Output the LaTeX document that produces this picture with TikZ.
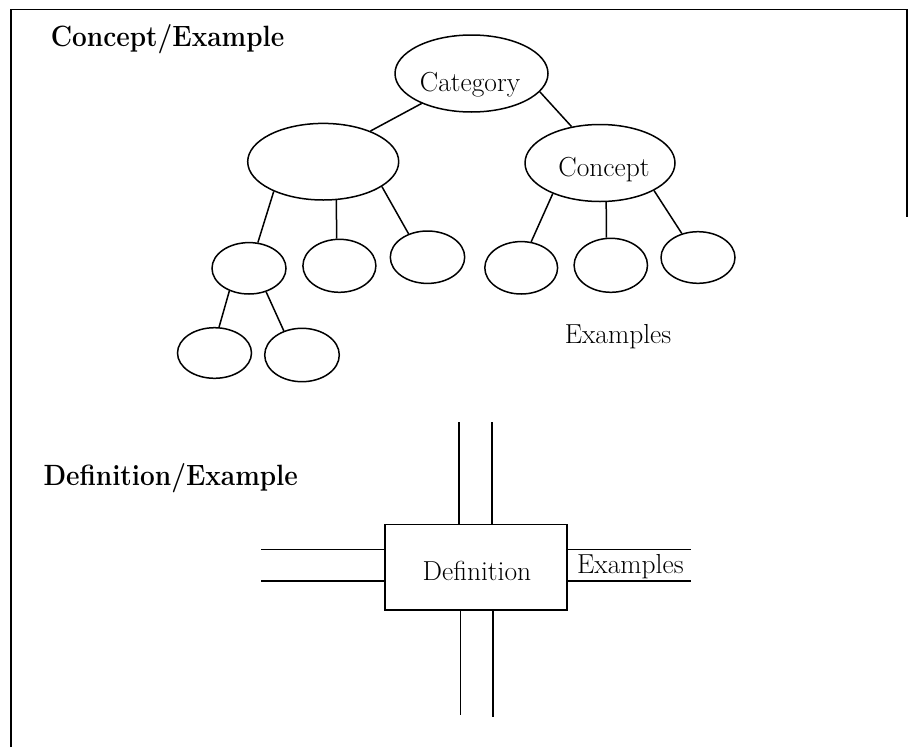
\documentclass[tikz,border=0pt]{standalone}
\usepackage{graphicx}
\usetikzlibrary{shapes.geometric}
\tikzset{
  oval/.style={ellipse, draw, line width=1.5pt, inner sep=0pt},
  conn/.style={line width=1.5pt},
  lbl/.style={font=\fontsize{27.5}{30}\selectfont, inner sep=0pt, anchor=base},
  ttl/.style={font=\fontsize{26.2}{30}\selectfont\bfseries, inner sep=0pt, anchor=base west},
  boxnode/.style={draw, line width=1.5pt, inner sep=0pt},
}
\begin{document}
\begin{tikzpicture}[x=1pt,y=-1pt]
\useasboundingbox (0,0) rectangle (909,747);
% frame
\draw[line width=1.7pt] (11,747) -- (11,9.5) -- (907,9.5) -- (907,217);

% titles
\node[ttl] (t1) at (50.7,46.7) {\scalebox{1}[1.12]{Concept/Example}};
\node[ttl] (t2) at (43.3,485) {\scalebox{1}[1.12]{Definition/Example}};

% tree
\node[oval, minimum width=153pt, minimum height=77pt] (cat) at (471.5,73.5) {};
\node[lbl] (catt) at (470,91.5) {Category};
\node[oval, minimum width=151pt, minimum height=76.6pt] (lft) at (323.2,161.7) {};
\node[oval, minimum width=150pt, minimum height=77pt] (con) at (600,163) {};
\node[lbl] (cont) at (604,176) {Concept};

\node[oval, minimum width=74pt, minimum height=51.4pt] (c1) at (249,268.3) {};
\node[oval, minimum width=73pt, minimum height=53pt] (c2) at (339.4,265.8) {};
\node[oval, minimum width=74.4pt, minimum height=52.4pt] (c3) at (427.5,257.2) {};
\node[oval, minimum width=74pt, minimum height=50.6pt] (g1) at (214.5,353) {};
\node[oval, minimum width=74.6pt, minimum height=53.4pt] (g2) at (302,355) {};
\node[oval, minimum width=72.8pt, minimum height=52.4pt] (e1) at (521.2,267.8) {};
\node[oval, minimum width=73.4pt, minimum height=54pt] (e2) at (610.8,265.3) {};
\node[oval, minimum width=74pt, minimum height=51.6pt] (e3) at (698,257.5) {};
\node[lbl] (exl) at (618,343.3) {Examples};

\draw[conn] (cat.211.4) -- (lft.33.5);
\draw[conn] (cat.345) -- (con.128.3);
\draw[conn] (lft.211) -- (c1.71.8);
\draw[conn] (lft.289) -- (c2.96.5);
\draw[conn] (lft.337) -- (c3.129.6);
\draw[conn] (c1.229.9) -- (g1.80);
\draw[conn] (c1.306) -- (g2.127.7);
\draw[conn] (con.213.6) -- (e1.69.8);
\draw[conn] (con.279.3) -- (e2.99.7);
\draw[conn] (con.333.7) -- (e3.124.8);

% definition / example
\node[boxnode, minimum width=181.7pt, minimum height=85.7pt] (def) at (476,567.2) {};
\node[lbl] (deft) at (477,580) {Definition};
\coordinate (ta) at (458.9,422.3);
\coordinate (tb) at (491.8,422.3);
\coordinate (ba) at (460.3,715);
\coordinate (bb) at (493.2,717.3);
\coordinate (la) at (261.4,549.3);
\coordinate (lb) at (261.4,581);
\coordinate (ra) at (691,549.3);
\coordinate (rb) at (691,581);
\draw[conn] (ta) -- (ta |- def.north);
\draw[conn] (tb) -- (tb |- def.north);
\draw[conn] (def.south -| ba) -- (ba);
\draw[conn] (def.south -| bb) -- (bb);
\draw[conn] (la) -- (la -| def.west);
\draw[conn] (lb) -- (lb -| def.west);
\draw[conn] (def.east |- ra) -- (ra);
\draw[conn] (def.east |- rb) -- (rb);
\node[lbl, anchor=base west] (rex) at (577,573.5) {Examples};
\end{tikzpicture}
\end{document}
